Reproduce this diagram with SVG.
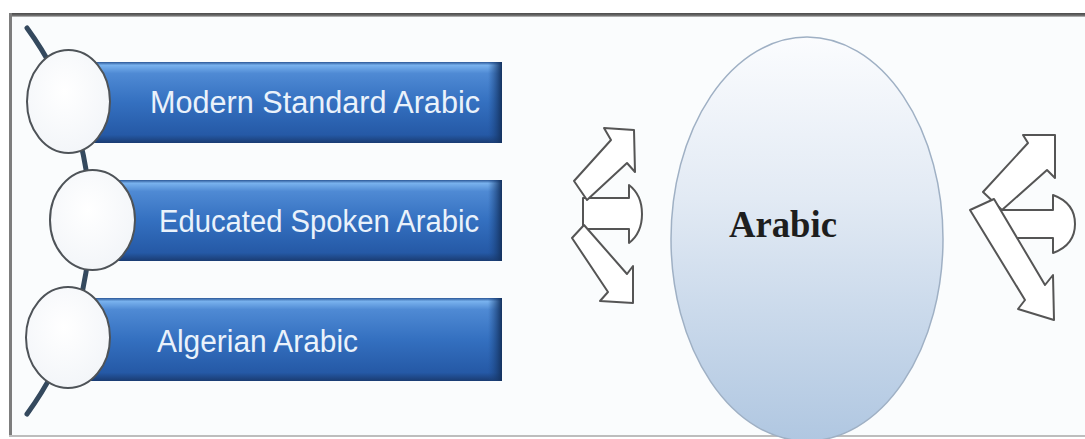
<svg xmlns="http://www.w3.org/2000/svg" width="1085" height="439" viewBox="0 0 1085 439">
  <defs>
    <linearGradient id="barGrad" x1="0" y1="0" x2="0" y2="1">
      <stop offset="0" stop-color="#2b5797"/>
      <stop offset="0.04" stop-color="#79b2ee"/>
      <stop offset="0.14" stop-color="#4f8ad4"/>
      <stop offset="0.5" stop-color="#3470c0"/>
      <stop offset="0.9" stop-color="#2559a6"/>
      <stop offset="1" stop-color="#1a3c72"/>
    </linearGradient>
    <linearGradient id="barEdge" x1="0" y1="0" x2="1" y2="0">
      <stop offset="0" stop-color="#1d4a8a" stop-opacity="0"/>
      <stop offset="1" stop-color="#14325f"/>
    </linearGradient>
    <linearGradient id="ellGrad" x1="0" y1="0" x2="0" y2="1">
      <stop offset="0" stop-color="#fbfcfe"/>
      <stop offset="0.4" stop-color="#e2eaf4"/>
      <stop offset="1" stop-color="#b0c7e1"/>
    </linearGradient>
    <radialGradient id="circGrad" cx="0.45" cy="0.4" r="0.7">
      <stop offset="0" stop-color="#ffffff"/>
      <stop offset="1" stop-color="#f1f4f8"/>
    </radialGradient>
    <linearGradient id="topBorder" x1="0" y1="0" x2="0" y2="1">
      <stop offset="0" stop-color="#4a4a4a"/>
      <stop offset="0.6" stop-color="#6a6a6a"/>
      <stop offset="1" stop-color="#c8c8c8"/>
    </linearGradient>
  </defs>
  <style>
    .bar { fill: url(#barGrad); }
    .barEdge { fill: url(#barEdge); }
    .circ { fill: url(#circGrad); stroke: #4e5358; stroke-width: 2; }
    .lbl { font-family: "Liberation Sans", Arial, sans-serif; font-size: 31px; fill: #eaf2fb; }
    .arr { fill: #ffffff; stroke: #555555; stroke-width: 2; stroke-linejoin: round; }
    .conn { fill: none; stroke: #34495e; stroke-width: 5; stroke-linecap: round; }
  </style>

  <!-- background and frame -->
  <rect x="0" y="0" width="1085" height="439" fill="#ffffff"/>
  <rect x="10" y="14" width="1080" height="422" fill="#fafcfd"/>
  <rect x="10" y="13" width="1075" height="4" fill="url(#topBorder)"/>
  <rect x="9" y="13" width="3" height="424" fill="#7d7d7d"/>
  <rect x="9" y="435" width="1076" height="2" fill="#bdbdbd"/>

  <!-- connectors -->
  <g id="connectors">
    <path class="conn" d="M27,28 A327,327 0 0 1 27,414"/>
  </g>

  <!-- list nodes -->
  <g id="node-msa">
    <rect class="bar" x="68" y="62" width="434" height="81"/>
    <rect class="barEdge" x="488" y="62" width="14" height="81"/>
    <ellipse class="circ" cx="68.5" cy="101.5" rx="41.5" ry="51.5"/>
    <text class="lbl" x="150" y="113" textLength="330" lengthAdjust="spacingAndGlyphs">Modern Standard Arabic</text>
  </g>
  <g id="node-esa">
    <rect class="bar" x="92" y="180" width="410" height="81"/>
    <rect class="barEdge" x="488" y="180" width="14" height="81"/>
    <ellipse class="circ" cx="92.5" cy="220" rx="42.5" ry="50"/>
    <text class="lbl" x="159" y="232" textLength="320" lengthAdjust="spacingAndGlyphs">Educated Spoken Arabic</text>
  </g>
  <g id="node-alg">
    <rect class="bar" x="68" y="298" width="434" height="83"/>
    <rect class="barEdge" x="488" y="298" width="14" height="83"/>
    <ellipse class="circ" cx="68" cy="337.5" rx="42" ry="50.5"/>
    <text class="lbl" x="157" y="352" textLength="201" lengthAdjust="spacingAndGlyphs">Algerian Arabic</text>
  </g>

  <!-- left diverging arrows -->
  <g id="arrows-left">
    <path class="arr" d="M583,198 H629 V185 Q642,195 642,214 Q642,233 629,243 V229 H583 Z"/>
    <polygon class="arr" points="574,181 611,140 604,128 634,130 635,172 627,163 587,200"/>
    <polygon class="arr" points="584,225 627,274 633,266 633,303 600,301 608,292 572,238"/>
  </g>

  <!-- central node -->
  <g id="node-arabic">
    <ellipse cx="807" cy="239" rx="136" ry="202" fill="url(#ellGrad)" stroke="#9fb0c4" stroke-width="1.5"/>
    <text x="729" y="237" font-family="'Liberation Serif', 'Times New Roman', serif" font-weight="bold" font-size="37" fill="#1e1e1e" textLength="108" lengthAdjust="spacingAndGlyphs">Arabic</text>
  </g>

  <!-- right diverging arrows -->
  <g id="arrows-right">
    <path class="arr" d="M1000,210 H1053 V195 Q1075,203 1075,224 Q1075,245 1053,253 V238 H1000 Z"/>
    <polygon class="arr" points="983,192 1028,143 1023,135 1055,135 1055,178 1047,170 1002,210"/>
    <polygon class="arr" points="994,199 1045,285 1053,275 1054,320 1018,309 1025,300 970,210"/>
  </g>
</svg>
